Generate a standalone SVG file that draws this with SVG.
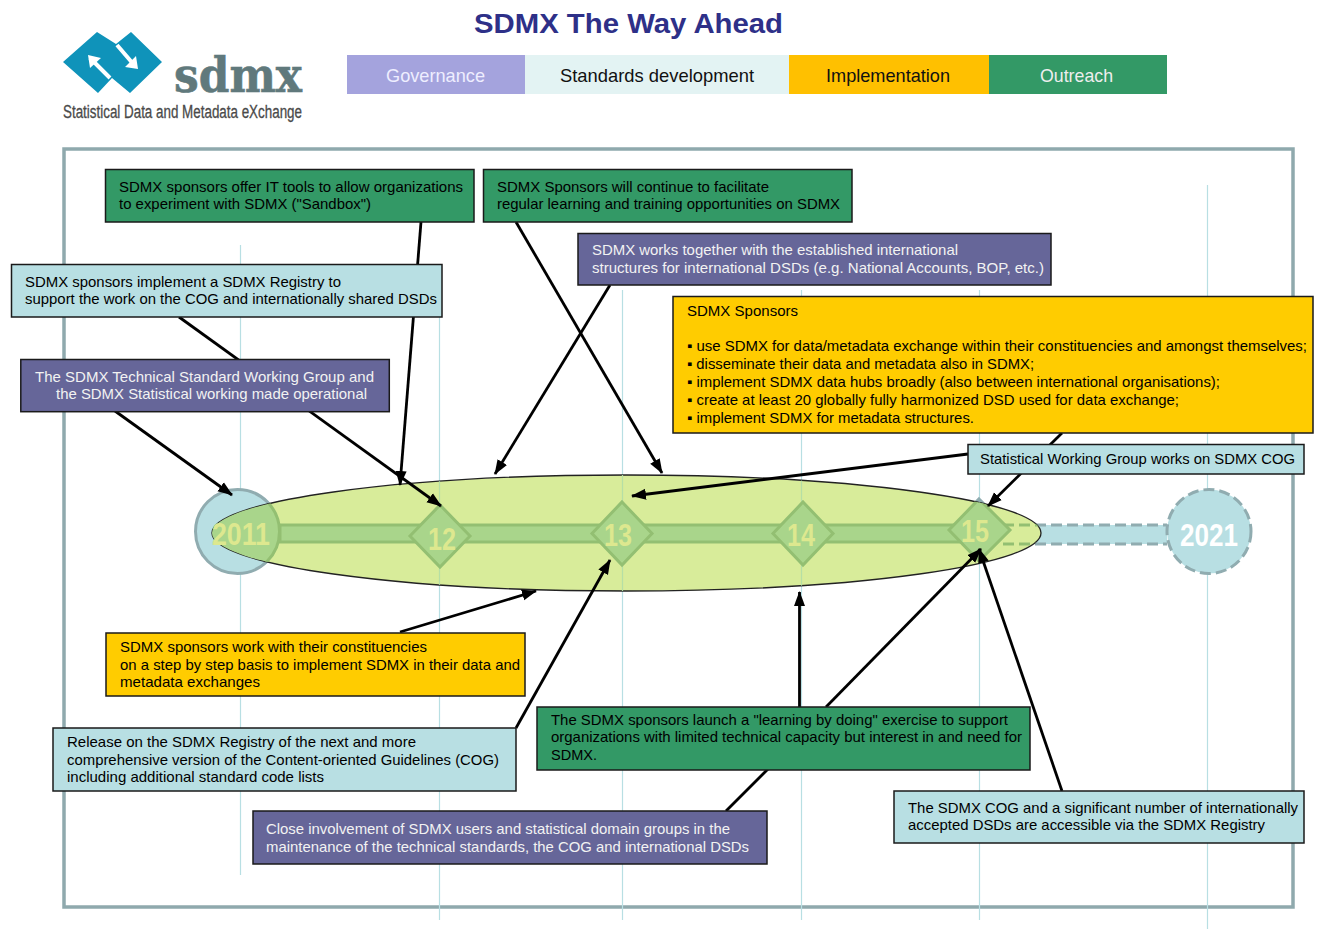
<svg xmlns="http://www.w3.org/2000/svg" width="1324" height="929" viewBox="0 0 1324 929">
<style>
text{font-family:"Liberation Sans",Arial,sans-serif}
.t{font-size:14.6px;fill:#000}
.w{font-size:14.6px;fill:#f2f2f2}
.box{stroke:#1a1a1a;stroke-width:1.5}
.g{fill:#339966}.b{fill:#b8dfe3}.p{fill:#666699}.y{fill:#ffcc00}
.v{stroke:#b8dfe3;stroke-width:1.200;fill:none}
.c{stroke:#000;stroke-width:2.800;fill:none}
.a{stroke:#000;stroke-width:2.800;fill:none;marker-end:url(#ah)}
.yr{font-size:31px;font-weight:bold;text-anchor:middle;fill:#dde88f}
.leg{font-size:19px}
.bs{fill:#b8dfe3;stroke:#90acb0;stroke-width:3}
.gs{fill:#a9d58b;stroke:#93bf72;stroke-width:3}
</style>
<defs>
<marker id="ah" markerUnits="userSpaceOnUse" markerWidth="16" markerHeight="12" refX="14" refY="6" orient="auto"><path d="M0 0.500L15 6L0 11.500Z" fill="#000"/></marker>
<clipPath id="ec"><ellipse cx="626.500" cy="533" rx="414.500" ry="58"/></clipPath>
<path id="d12" d="M440 505L470 536L440 567L410 536Z"/>
<path id="d13" d="M622 502L652 533.500L622 565L592 533.500Z"/>
<path id="d14" d="M803 502L833 533.500L803 565L773 533.500Z"/>
<path id="d15" d="M979 499L1010 530L979 561L949 530Z"/>
</defs>
<rect width="1324" height="929" fill="#fff"/>
<g id="title"><text x="474" y="33" font-size="27" font-weight="bold" fill="#2e3088" textLength="309" lengthAdjust="spacingAndGlyphs">SDMX The Way Ahead</text></g>
<g id="logo">
<path d="M63 62L97 32L116 44L131 32L162 62L130 93L112 78L98 93Z" fill="#0f93ba"/>
<path d="M110 78L90 58M117 45L135 66" stroke="#fff" stroke-width="4" fill="none"/>
<path d="M88 55L90 68L101 58ZM138 69L125 67L136 56Z" fill="#fff"/>
<text x="174" y="92" font-size="48" font-weight="bold" fill="#60797c" stroke="#60797c" stroke-width=".6" style="font-family:'DejaVu Serif',serif" textLength="128" lengthAdjust="spacingAndGlyphs">sdmx</text>
<text x="63" y="118" font-size="18" fill="#4a4a4a" stroke="#4a4a4a" stroke-width=".3" textLength="239" lengthAdjust="spacingAndGlyphs">Statistical Data and Metadata eXchange</text>
</g>
<g id="legend">
<rect x="347" y="55" width="178" height="39" fill="#a4a3dd"/><text class="leg" x="386" y="82" fill="#eef" textLength="99" lengthAdjust="spacingAndGlyphs">Governance</text>
<rect x="525" y="55" width="264" height="39" fill="#e3f3f3"/><text class="leg" x="560" y="82" fill="#111" textLength="194" lengthAdjust="spacingAndGlyphs">Standards development</text>
<rect x="789" y="55" width="200" height="39" fill="#ffc000"/><text class="leg" x="826" y="82" fill="#111" textLength="124" lengthAdjust="spacingAndGlyphs">Implementation</text>
<rect x="989" y="55" width="178" height="39" fill="#339966"/><text class="leg" x="1040" y="82" fill="#eee" textLength="73" lengthAdjust="spacingAndGlyphs">Outreach</text>
</g>
<g id="frame">
<rect x="64" y="149" width="1229" height="758" fill="none" stroke="#8fa9ad" stroke-width="3.500"/>
<path class="v" d="M240.500 245V875M439.500 317V920M622.500 290V920M801.500 290V920M979.500 290V920M1207.500 185V929"/>
</g>
<g id="timeline">
<rect x="1003" y="525" width="164" height="19" fill="#b8dfe3"/>
<path d="M1003 525H1167M1003 544H1167" stroke="#90acb0" stroke-width="3" stroke-dasharray="11 5" fill="none"/>
<rect class="bs" x="280" y="525" width="700" height="17"/>
<circle class="bs" cx="237.500" cy="531.500" r="42"/>
<circle class="bs" cx="1209" cy="531.500" r="42" stroke-dasharray="11 5" stroke-width="3.500"/>
<use class="bs" href="#d12"/><use class="bs" href="#d13"/><use class="bs" href="#d14"/><use class="bs" href="#d15"/>
<text x="1209" y="546" font-size="31" font-weight="bold" text-anchor="middle" fill="#fff" textLength="58" lengthAdjust="spacingAndGlyphs">2021</text>
</g>
<g id="focus">
<ellipse cx="626.500" cy="533" rx="414.500" ry="58" fill="#d8ec9a" stroke="#222" stroke-width="1.300"/>
<g clip-path="url(#ec)">
<path d="M240.500 475V591M439.500 475V591M622.500 475V591M801.500 475V591M979.500 475V591" stroke="#b5dfa5" stroke-width="1.200"/>
<path d="M1003 525H1060M1003 544H1060" stroke="#93bf72" stroke-width="3" stroke-dasharray="11 5" fill="none"/>
<rect class="gs" x="280" y="525" width="700" height="17"/>
<circle class="gs" cx="237.500" cy="531.500" r="42"/>
<use class="gs" href="#d12"/><use class="gs" href="#d13"/><use class="gs" href="#d14"/><use class="gs" href="#d15"/>
</g>
<text class="yr" x="241" y="545" textLength="58" lengthAdjust="spacingAndGlyphs">2011</text>
<text class="yr" x="442" y="550" textLength="28" lengthAdjust="spacingAndGlyphs">12</text>
<text class="yr" x="618" y="546" textLength="28" lengthAdjust="spacingAndGlyphs">13</text>
<text class="yr" x="801" y="546" textLength="28" lengthAdjust="spacingAndGlyphs">14</text>
<text class="yr" x="975" y="542" textLength="28" lengthAdjust="spacingAndGlyphs">15</text>
</g>
<g id="connectors">
<path class="a" d="M421 222L400 485"/>
<path class="a" d="M179 317L441 506"/>
<path class="a" d="M115 411L232 495"/>
<path class="a" d="M516 222L662 473"/>
<path class="a" d="M610 285L495 474"/>
<path class="a" d="M968 454L632 496"/>
<path class="a" d="M1062 433L988 506"/>
<path class="a" d="M400 632L536 591"/>
<path class="a" d="M516 728L610 560"/>
<path class="a" d="M799.500 707V592"/>
<path class="a" d="M826 707L981 549"/>
<path class="a" d="M1062 791L979 549"/>
<path class="c" d="M726 811L768 769"/>
</g>
<g id="n1"><rect class="box g" x="105.500" y="169.500" width="368.500" height="52.500"/><text class="t" x="119" y="192" textLength="344" lengthAdjust="spacingAndGlyphs">SDMX sponsors offer IT tools to allow organizations</text><text class="t" x="119" y="209" textLength="252" lengthAdjust="spacingAndGlyphs">to experiment with SDMX ("Sandbox")</text></g>
<g id="n2"><rect class="box g" x="483.500" y="169.500" width="368.500" height="52.500"/><text class="t" x="497" y="192" textLength="272" lengthAdjust="spacingAndGlyphs">SDMX Sponsors will continue to facilitate</text><text class="t" x="497" y="209" textLength="343" lengthAdjust="spacingAndGlyphs">regular learning and training opportunities on SDMX</text></g>
<g id="n3"><rect class="box p" x="578" y="233.500" width="473" height="51.500"/><text class="w" x="592" y="255" textLength="366" lengthAdjust="spacingAndGlyphs">SDMX works together with the established international</text><text class="w" x="592" y="273" textLength="452" lengthAdjust="spacingAndGlyphs">structures for international DSDs (e.g. National Accounts, BOP, etc.)</text></g>
<g id="n4"><rect class="box b" x="11.500" y="264.500" width="430.500" height="52.500"/><text class="t" x="25" y="287" textLength="316" lengthAdjust="spacingAndGlyphs">SDMX sponsors implement a SDMX Registry to</text><text class="t" x="25" y="304" textLength="412" lengthAdjust="spacingAndGlyphs">support the work on the COG and internationally shared DSDs</text></g>
<g id="n5"><rect class="box p" x="20.800" y="359.500" width="368.500" height="52.200"/><text class="w" x="35" y="382" textLength="339" lengthAdjust="spacingAndGlyphs">The SDMX Technical Standard Working Group and</text><text class="w" x="56" y="399" textLength="311" lengthAdjust="spacingAndGlyphs">the SDMX Statistical working made operational</text></g>
<g id="n6"><rect class="box y" x="673" y="296.500" width="640" height="136.500"/>
<text class="t" x="687" y="316" textLength="111" lengthAdjust="spacingAndGlyphs">SDMX Sponsors</text>
<text class="t" x="687" y="351" textLength="620" lengthAdjust="spacingAndGlyphs">▪ use SDMX for data/metadata exchange within their constituencies and amongst themselves;</text>
<text class="t" x="687" y="369" textLength="347" lengthAdjust="spacingAndGlyphs">▪ disseminate their data and metadata also in SDMX;</text>
<text class="t" x="687" y="387" textLength="533" lengthAdjust="spacingAndGlyphs">▪ implement SDMX data hubs broadly (also between international organisations);</text>
<text class="t" x="687" y="405" textLength="492" lengthAdjust="spacingAndGlyphs">▪ create at least 20 globally fully harmonized DSD used for data exchange;</text>
<text class="t" x="687" y="423" textLength="287" lengthAdjust="spacingAndGlyphs">▪ implement SDMX for metadata structures.</text></g>
<g id="n7"><rect class="box b" x="968" y="444.500" width="336" height="29.500"/><text class="t" x="980" y="464" textLength="315" lengthAdjust="spacingAndGlyphs">Statistical Working Group works on SDMX COG</text></g>
<g id="n8"><rect class="box y" x="106" y="633" width="419" height="63"/><text class="t" x="120" y="652" textLength="307" lengthAdjust="spacingAndGlyphs">SDMX sponsors work with their constituencies</text><text class="t" x="120" y="670" textLength="400" lengthAdjust="spacingAndGlyphs">on a step by step basis to implement SDMX in their data and</text><text class="t" x="120" y="687" textLength="140" lengthAdjust="spacingAndGlyphs">metadata exchanges</text></g>
<g id="n9"><rect class="box b" x="53" y="728" width="463" height="63"/><text class="t" x="67" y="747" textLength="349" lengthAdjust="spacingAndGlyphs">Release on the SDMX Registry of the next and more</text><text class="t" x="67" y="765" textLength="432" lengthAdjust="spacingAndGlyphs">comprehensive version of the Content-oriented Guidelines (COG)</text><text class="t" x="67" y="782" textLength="257" lengthAdjust="spacingAndGlyphs">including additional standard code lists</text></g>
<g id="n10"><rect class="box g" x="537" y="707" width="493" height="63"/><text class="t" x="551" y="725" textLength="457" lengthAdjust="spacingAndGlyphs">The SDMX sponsors launch a "learning by doing" exercise to support</text><text class="t" x="551" y="742" textLength="471" lengthAdjust="spacingAndGlyphs">organizations with limited technical capacity but interest in and need for</text><text class="t" x="551" y="760" textLength="46" lengthAdjust="spacingAndGlyphs">SDMX.</text></g>
<g id="n11"><rect class="box p" x="253" y="811" width="514" height="53"/><text class="w" x="266" y="834" textLength="464" lengthAdjust="spacingAndGlyphs">Close involvement of SDMX users and statistical domain groups in the</text><text class="w" x="266" y="852" textLength="483" lengthAdjust="spacingAndGlyphs">maintenance of the technical standards, the COG and international DSDs</text></g>
<g id="n12"><rect class="box b" x="894" y="791" width="410" height="52"/><text class="t" x="908" y="813" textLength="390" lengthAdjust="spacingAndGlyphs">The SDMX COG and a significant number of internationally</text><text class="t" x="908" y="830" textLength="357" lengthAdjust="spacingAndGlyphs">accepted DSDs are accessible via the SDMX Registry</text></g>
</svg>
